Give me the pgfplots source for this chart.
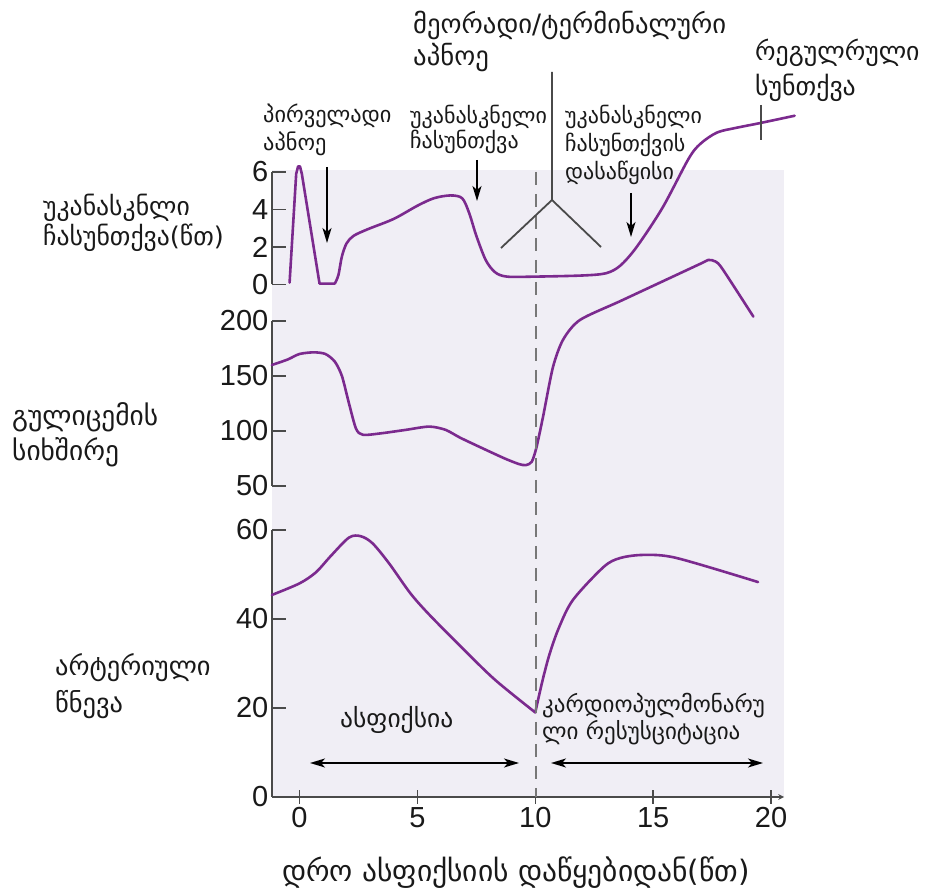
\documentclass[border=0pt]{standalone}
\usepackage{fontspec}
\setmainfont{Liberation Sans}
\newfontfamily\geo{DejaVu Sans}
\usepackage{pgfplots}
\pgfplotsset{compat=1.18}
\usetikzlibrary{arrows.meta}

\definecolor{curve}{HTML}{7B2A8E}
\definecolor{panel}{HTML}{F0EEF5}
\definecolor{axisgray}{HTML}{4A4A4A}
\definecolor{dashgray}{HTML}{777777}

\pgfplotsset{
  physio/.style={
    scale only axis, width=512.1pt, xmin=-1.17, xmax=20.55,
    axis y line=left,
    axis line style={-, draw=axisgray, line width=1.5pt},
    tick align=inside, major tick length=14pt,
    tick style={draw=axisgray, line width=1.5pt},
    ticklabel style={font=\fontsize{29}{29}\selectfont, text=black!90},
    /pgf/number format/assume math mode=true,
    clip=false, anchor=south west,
  },
  trace/.style={draw=curve, line width=2.6pt, no markers,
    line join=round, line cap=round},
}

\newcommand{\gsize}[1]{\geo\fontsize{#1}{#1}\selectfont}

\begin{document}
\begin{tikzpicture}
\useasboundingbox (0,0) rectangle (926pt,894pt);

% shaded panel behind the three traces
\begin{scope}[x=1pt, y=-1pt, shift={(0pt,894pt)}]
  \fill[panel] (272,170) rectangle (784,797);
\end{scope}

% ---- arterial pressure (bottom) ----
\begin{axis}[physio, at={(271.9pt,97pt)}, height=267pt,
  ymin=0, ymax=60, ytick={0,20,40,60},
  axis x line=bottom, xtick={0,5,10,15,20}]
  \addplot[trace, smooth, tension=0.5] coordinates {
    (-1.17,45.4) (0,48) (0.7,50.5) (1.3,54) (2.1,58.3) (2.6,58.6)
    (3.1,57) (3.8,52.5) (4.7,45.8) (5.5,41) (6.9,33.5) (8.3,26.3) (10,19)
  };
  \addplot[trace, smooth, tension=0.5] coordinates {
    (10,19) (10.3,26) (10.6,32) (11.0,38) (11.6,44.3) (12.9,51.7)
    (13.6,53.7) (14.6,54.4) (16,53.7) (19.45,48.3)
  };
\end{axis}

% ---- heart rate (middle) ----
\begin{axis}[physio, at={(271.9pt,408pt)}, height=165pt,
  ymin=50, ymax=200, ytick={50,100,150,200},
  axis x line=none, xtick=\empty]
  \addplot[trace, smooth, tension=0.45] coordinates {
    (-1.17,160) (-0.5,165) (0,170) (0.6,171.5) (1.1,170) (1.5,163)
    (1.8,150) (2.1,125) (2.4,102) (2.7,96.5) (3.5,98) (4.5,101)
    (5.5,104) (6.2,101) (6.9,93) (8.6,76) (9.3,70) (9.6,69) (9.85,72)
    (10.05,85) (10.33,113) (10.75,158) (11.18,183) (11.9,201)
    (13.7,219) (17.0,252) (17.35,255.5) (17.65,254) (17.95,247)
    (19.25,204)
  };
\end{axis}

% ---- apnoea / breathing (top) ----
\begin{axis}[physio, at={(271.9pt,609.5pt)}, height=112.5pt,
  ymin=0, ymax=6, ytick={0,2,4,6},
  axis x line=none, xtick=\empty]
  \addplot[trace] coordinates {
    (-0.42,0.1) (-0.14,5.9) (-0.06,6.3) (0.02,6.3) (0.1,5.9) (0.85,0.05) (1.5,0.05)
  };
  \addplot[trace, smooth, tension=0.5] coordinates {
    (1.5,0.05) (1.65,0.5) (1.8,1.5) (2.0,2.2) (2.3,2.6) (2.9,2.95)
    (4.0,3.5) (5.0,4.2) (5.7,4.6) (6.4,4.75) (6.9,4.6) (7.2,3.8)
    (7.5,2.6) (7.9,1.3) (8.3,0.65) (8.8,0.42) (10,0.42) (12,0.48)
    (13.0,0.6) (13.6,1.0) (14.3,2.0) (15.4,4.1) (16.5,6.7) (17.0,7.5)
    (17.7,8.1) (18.5,8.35) (19.5,8.6) (21.0,9.0)
  };
\end{axis}

% ---- annotations ----
\begin{scope}[x=1pt, y=-1pt, shift={(0pt,894pt)}]
  % start of resuscitation
  \draw[dashgray, line width=2.2pt, dash pattern=on 13pt off 9pt] (536,172) -- (536,797);
  % secondary / terminal apnoea marker
  \draw[axisgray, line width=1.8pt] (552,72) -- (552,200) -- (501,248);
  \draw[axisgray, line width=1.8pt] (552,200) -- (601,247);
  % regular breathing marker
  \draw[axisgray, line width=1.8pt] (761,105) -- (761,140);

  \tikzset{tip/.tip={Stealth[length=15pt, width=9pt, inset=4pt]},
           darr/.style={black, line width=1.6pt, -tip}}
  \draw[darr] (327,167) -- (327,243);
  \draw[darr] (477,160) -- (477,201);
  \draw[darr] (631,193) -- (631,237);
  \draw[darr, tip-tip] (310,763) -- (519,763);
  \draw[darr, tip-tip] (551,763) -- (763,763);

  \tikzset{gl/.style={anchor=west, inner sep=0pt, text=black!90}}
  \node[gl, font=\gsize{26.7}] at (413,25) {მეორადი/ტერმინალური};
  \node[gl, font=\gsize{26.7}] at (413,58) {აპნოე};
  \node[gl, font=\gsize{25.8}] at (755,53) {რეგულრული};
  \node[gl, font=\gsize{25.8}] at (755,88) {სუნთქვა};
  \node[gl, font=\gsize{22.3}] at (263,116) {პირველადი};
  \node[gl, font=\gsize{22.3}] at (263,144) {აპნოე};
  \node[gl, font=\gsize{22}] at (410,117) {უკანასკნელი};
  \node[gl, font=\gsize{22}] at (410,142) {ჩასუნთქვა};
  \node[gl, font=\gsize{22}] at (565,117) {უკანასკნელი};
  \node[gl, font=\gsize{22}] at (565,145) {ჩასუნთქვის};
  \node[gl, font=\gsize{22}] at (565,173) {დასაწყისი};
  \node[gl, font=\gsize{25.7}] at (43,208) {უკანასკნლი};
  \node[gl, font=\gsize{25.7}] at (43,238) {ჩასუნთქვა(წთ)};
  \node[gl, font=\gsize{27.4}] at (12,417) {გულიცემის};
  \node[gl, font=\gsize{27.4}] at (12,452) {სიხშირე};
  \node[gl, font=\gsize{26.4}] at (55,668) {არტერიული};
  \node[gl, font=\gsize{26.4}] at (55,705) {წნევა};
  \node[gl, font=\gsize{25.5}] at (340,720) {ასფიქსია};
  \node[gl, font=\gsize{23}] at (542,706) {კარდიოპულმონარუ};
  \node[gl, font=\gsize{23}] at (542,733) {ლი რესუსციტაცია};
  \node[font=\gsize{29.5}, text=black!90, inner sep=0pt] at (516,873) {დრო ასფიქსიის დაწყებიდან(წთ)};
\end{scope}
\end{tikzpicture}
\end{document}
